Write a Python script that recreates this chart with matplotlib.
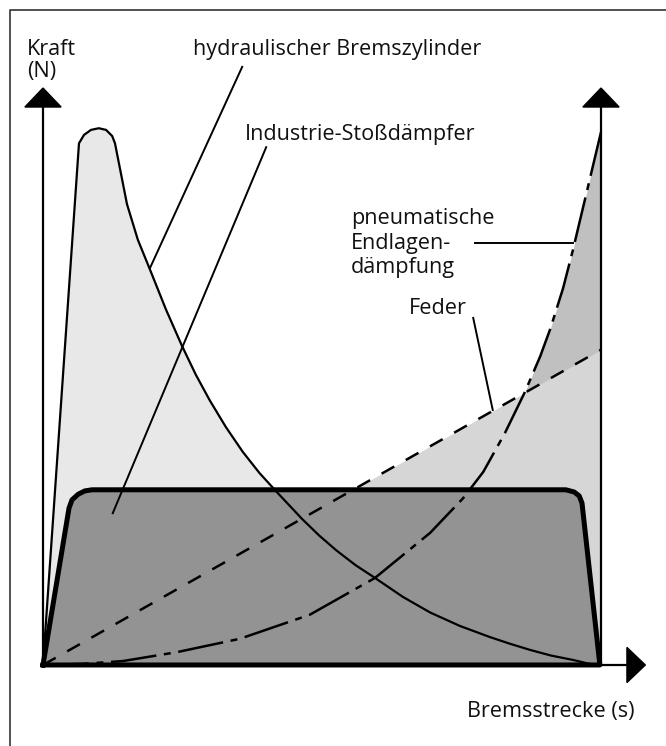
## Damping characteristics: force over braking distance for four damper types.
import matplotlib
matplotlib.use("Agg")
import matplotlib.pyplot as plt
from matplotlib.patches import Polygon

plt.rcParams['font.family'] = ['Open Sans', 'DejaVu Sans']
plt.rcParams['lines.scale_dashes'] = False

# Curves (s = braking distance, F = force, both 0..100)
HYDRAULIC_S = [0, 6.45, 7.35, 8.6, 10.0, 11.3, 12.4, 12.9, 15.05, 17.0, 19.2, 22.0, 24.9,
               27.4, 29.9, 32.8, 35.8, 38.8, 41.9, 46.4, 49.5, 52.5, 56.0, 59.5, 64.5,
               69.4, 74.7, 80.1, 83.7, 87.3, 91.0, 95.0, 97.5, 99.0]
HYDRAULIC_F = [0, 93.5, 95.0, 95.9, 96.2, 95.9, 94.8, 93.5, 82.6, 76.2, 70.8, 63.8, 57.2,
               52.0, 47.4, 42.6, 38.2, 34.4, 31.0, 26.2, 23.2, 20.6, 17.9, 15.6, 12.2,
               9.4, 7.0, 5.0, 3.8, 2.7, 1.7, 0.9, 0.3, 0]

SHOCK_S = [0, 4.66, 5.2, 6.3, 7.5, 8.8, 93.7, 95.2, 96.1, 96.6, 99.8]
SHOCK_F = [0, 28.1, 29.6, 30.6, 31.2, 31.4, 31.4, 31.0, 30.3, 29.0, 0]

SPRING_S = [0, 100]
SPRING_F = [0, 56.5]

PNEU_S = [0, 7.0, 14.3, 24.0, 35.3, 47.8, 59.5, 69.4, 75.3, 78.9, 82.8, 86.4,
          89.1, 90.9, 93.2, 95.0, 97.5, 100]
PNEU_F = [0, 0.2, 0.7, 2.3, 4.7, 9.0, 15.6, 23.7, 29.9, 34.6, 41.6, 49.0,
          55.3, 60.2, 67.5, 74.5, 85.0, 95.5]

# Labels
Y_LABEL = ["Kraft", "(N)"]
X_LABEL = "Bremsstrecke (s)"
HYDRAULIC_LABEL = "hydraulischer Bremszylinder"
SHOCK_LABEL = "Industrie-Stoßdämpfer"
PNEU_LABEL = ["pneumatische", "Endlagen-", "dämpfung"]
SPRING_LABEL = "Feder"

# Colors
HYDRAULIC_FILL = "#e8e8e8"
SPRING_FILL = "#d6d6d6"
PNEU_FILL = "#c0c0c0"
SHOCK_FILL = "#939393"

FONT_SIZE = 15.6
LW = 1.6


def arrow_head(ax, tip, direction):
    x, y = tip
    if direction == "up":
        pts = [(x, y), (x - 3.25, y - 3.4), (x + 3.25, y - 3.4)]
    else:
        pts = [(x, y), (x - 3.3, y - 3.15), (x - 3.3, y + 3.15)]
    ax.add_patch(Polygon(pts, closed=True, color="black", zorder=6))


def main():
    fig = plt.figure(figsize=(6.66, 7.46), dpi=100)
    ax = fig.add_axes([0, 0, 1, 1])
    ax.set_xlim(-7.706, 111.65)
    ax.set_ylim(-14.52, 119.18)
    ax.axis("off")

    # fills, back to front
    ax.fill_between(PNEU_S, PNEU_F, 0, color=PNEU_FILL, lw=0, zorder=1)
    ax.fill_between(SPRING_S, SPRING_F, 0, color=SPRING_FILL, lw=0, zorder=2)
    ax.fill_between(HYDRAULIC_S, HYDRAULIC_F, 0, color=HYDRAULIC_FILL, lw=0, zorder=3)
    ax.fill_between(SHOCK_S, SHOCK_F, 0, color=SHOCK_FILL, lw=0, zorder=4)

    # curves
    ax.plot(HYDRAULIC_S, HYDRAULIC_F, color="black", lw=LW, zorder=5,
            solid_joinstyle="round")
    ax.plot(SPRING_S, SPRING_F, color="black", lw=LW + 0.2, zorder=5,
            linestyle=(0, (10.5, 9.5)))
    ax.plot(PNEU_S, PNEU_F, color="black", lw=LW + 0.2, zorder=5,
            linestyle=(0, (33, 5.5, 5, 5.5)))
    ax.plot(SHOCK_S + [0], SHOCK_F + [0], color="black", lw=3.6, zorder=7,
            solid_joinstyle="round")

    # axes with arrow heads
    ax.plot([0, 0], [0, 100], color="black", lw=LW, zorder=6)
    ax.plot([100, 100], [0, 100], color="black", lw=LW, zorder=6)
    ax.plot([0, 104.7], [0, 0], color="black", lw=LW, zorder=6)
    arrow_head(ax, (0, 103.4), "up")
    arrow_head(ax, (100, 103.4), "up")
    arrow_head(ax, (107.95, 0), "right")

    # leader lines
    leader = dict(color="black", lw=1.4, zorder=8)
    ax.plot([35.7, 19.2], [107.2, 71.2], **leader)
    ax.plot([40.0, 12.5], [92.8, 27.2], **leader)
    ax.plot([77.4, 95.0], [75.6, 75.6], **leader)
    ax.plot([77.1, 80.6], [62.2, 45.7], **leader)

    # texts
    txt = dict(fontsize=FONT_SIZE, va="baseline", ha="left", color="#111111")
    ax.text(-2.87, 109.3, Y_LABEL[0], **txt)
    ax.text(-2.87, 105.4, Y_LABEL[1], **txt)
    ax.text(26.9, 109.3, HYDRAULIC_LABEL, **txt)
    ax.text(36.2, 94.1, SHOCK_LABEL, **txt)
    for i, line in enumerate(PNEU_LABEL):
        ax.text(55.2, 79.0 - i * 4.4, line, **txt)
    ax.text(65.6, 62.9, SPRING_LABEL, **txt)
    ax.text(76.0, -9.32, X_LABEL, **txt)

    # frame (left and top edges only visible)
    ax.plot([-6.0, -6.0, 112], [-15, 117.4, 117.4], color="#333333", lw=1.2,
            zorder=0, clip_on=False)

    fig.savefig("out.png", dpi=100)


if __name__ == '__main__':
    main()
